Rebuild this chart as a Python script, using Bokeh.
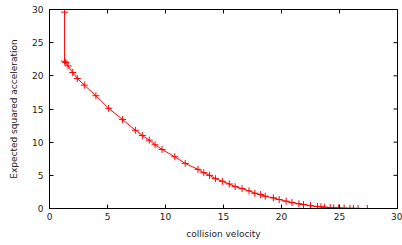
import math
from bokeh.plotting import figure
from bokeh.models import FixedTicker, Range1d
from bokeh.embed import file_html
from bokeh.resources import INLINE

velocity = [1.3, 1.3, 1.4, 1.6, 2.0, 2.4, 3.0, 4.0, 5.1, 6.3, 7.4, 8.0, 8.6, 9.1, 9.7,
            10.8, 11.7, 12.8, 13.3, 13.8, 14.3, 14.9, 15.5, 16.0, 16.6, 17.2, 17.7,
            18.2, 18.6, 19.3, 19.8, 20.4, 20.9, 21.5, 21.9, 22.5, 23.1, 23.4, 23.7,
            24.2, 24.5, 24.9, 25.4, 25.9, 26.2, 26.6, 27.4]
accel = [29.6, 22.2, 22.0, 21.5, 20.5, 19.6, 18.6, 17.0, 15.1, 13.4, 11.8, 11.0, 10.3,
         9.6, 8.9, 7.8, 6.8, 5.9, 5.4, 5.0, 4.5, 4.1, 3.7, 3.3, 3.0, 2.65, 2.3, 2.1,
         1.85, 1.6, 1.35, 1.1, 0.9, 0.7, 0.6, 0.42, 0.3, 0.25, 0.2, 0.15, 0.1, 0.08,
         0.05, 0.03, 0.02, 0.01, 0.0]
ticks = [0, 5, 10, 15, 20, 25, 30]
X_MAX = 30
Y_MAX = 30

FONT = "DejaVu Sans"

p = figure(width=402, height=245, output_backend="svg", toolbar_location=None,
           x_range=Range1d(0, X_MAX), y_range=Range1d(0, Y_MAX),
           min_border_left=49, min_border_right=5, min_border_top=9, min_border_bottom=37,
           x_axis_label="collision velocity", y_axis_label="Expected squared acceleration")
p.grid.visible = False
p.outline_line_color = "black"
p.outline_line_width = 1
p.background_fill_color = "white"
p.border_fill_color = "white"

for ax in (p.xaxis[0], p.yaxis[0]):
    ax.ticker = FixedTicker(ticks=ticks)
    ax.major_tick_in = 4
    ax.major_tick_out = 0
    ax.minor_tick_in = 0
    ax.minor_tick_out = 0
    ax.axis_line_color = "black"
    ax.major_tick_line_color = "black"
    ax.major_label_text_font = FONT
    ax.major_label_text_font_size = "9px"
    ax.major_label_text_color = "#222222"
    ax.axis_label_text_font = FONT
    ax.axis_label_text_font_size = "9px"
    ax.axis_label_text_font_style = "normal"
    ax.axis_label_text_color = "#222222"

p.xaxis[0].major_label_standoff = 4
p.xaxis[0].axis_label_standoff = 6
p.yaxis[0].major_label_standoff = 6
p.yaxis[0].axis_label_standoff = 10

# mirrored inward ticks on top and right borders (clipped to the frame)
p.scatter(ticks, [Y_MAX] * len(ticks), marker="dash", angle=math.pi / 2, size=8,
          line_color="black", line_width=1)
p.scatter([X_MAX] * len(ticks), ticks, marker="dash", size=8,
          line_color="black", line_width=1)

p.line(velocity, accel, line_color="red", line_width=1)
p.scatter(velocity, accel, marker="cross", size=7, line_color="red", line_width=1)

open("out.html", "w").write(file_html(p, INLINE))
